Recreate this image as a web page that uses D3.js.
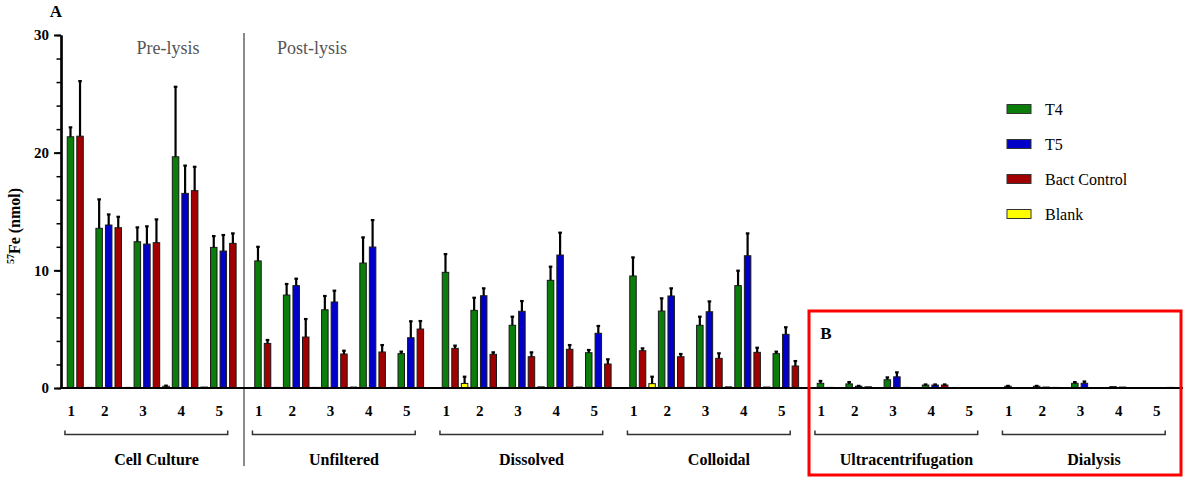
<!DOCTYPE html>
<html>
<head>
<meta charset="utf-8">
<script src="https://cdn.jsdelivr.net/npm/d3@7/dist/d3.min.js"></script>
<style>
  html, body { margin: 0; padding: 0; background: #ffffff; }
  svg { display: block; }
  svg text { font-family: "Liberation Serif", "Times New Roman", "DejaVu Serif", serif; }
</style>
</head>
<body>
<div id="chart"></div>
<script>
// Fractions and sample numbers
const groups = ["Cell Culture", "Unfiltered", "Dissolved", "Colloidal", "Ultracentrifugation", "Dialysis"];
const samples = ["1", "2", "3", "4", "5"];
const seriesNames = ["T4", "T5", "Bact Control", "Blank"];
const seriesColors = ["#0a7d0a", "#0000c8", "#a00000", "#ffff00"];
const yTicks = [0, 10, 20, 30];

// 57Fe (nmol) means, one row per fraction, one entry per sample
const t4Mean = [
  [21.35, 13.57, 12.43, 19.65, 11.95],
  [10.8, 7.9, 6.65, 10.62, 2.92],
  [9.83, 6.6, 5.33, 9.15, 3.0],
  [9.52, 6.54, 5.33, 8.7, 2.92],
  [0.4, 0.35, 0.7, 0.25, 0.03],
  [0.15, 0.15, 0.4, 0.12, 0.02]
];
const t4Err = [
  [0.8, 2.46, 1.22, 5.95, 0.96],
  [1.2, 0.94, 1.17, 2.18, 0.17],
  [1.55, 1.07, 0.73, 1.16, 0.23],
  [1.58, 1.08, 0.73, 1.27, 0.17],
  [0.2, 0.15, 0.2, 0.05, 0],
  [0.03, 0.03, 0.1, 0, 0]
];
const t5Mean = [
  [null, 13.85, 12.23, 16.54, 11.64],
  [null, 8.7, 7.31, 11.98, 4.27],
  [null, 7.84, 6.52, 11.3, 4.65],
  [null, 7.82, 6.48, 11.24, 4.56],
  [null, 0.15, 0.95, 0.25, 0.02],
  [null, 0.08, 0.4, 0.08, 0.02]
];
const t5Err = [
  [null, 0.9, 1.51, 2.36, 1.36],
  [null, 0.59, 0.96, 2.29, 1.4],
  [null, 0.63, 0.87, 1.9, 0.62],
  [null, 0.65, 0.88, 1.9, 0.6],
  [null, 0.03, 0.38, 0.05, 0],
  [null, 0, 0.15, 0, 0]
];
const bactMean = [
  [21.4, 13.62, 12.35, 16.77, 12.29],
  [3.79, 4.33, 2.89, 3.06, 5.01],
  [3.37, 2.86, 2.66, 3.29, 2.04],
  [3.17, 2.66, 2.52, 3.03, 1.87],
  [0.05, 0.1, 0.05, 0.25, 0.02],
  [0.03, 0.05, 0.03, 0.03, 0.05]
];
const bactErr = [
  [4.68, 0.93, 1.98, 2.03, 0.85],
  [0.29, 1.53, 0.28, 0.59, 0.68],
  [0.23, 0.17, 0.37, 0.36, 0.4],
  [0.2, 0.23, 0.43, 0.39, 0.42],
  [0, 0, 0, 0.05, 0],
  [0, 0, 0, 0, 0]
];
const blankMean = [
  [0.05, 0.05, 0.15, 0.08, 0.03],
  [0.05, 0.05, 0.08, 0.05, 0.03],
  [0.39, 0.05, 0.1, 0.08, 0.03],
  [0.37, 0.05, 0.1, 0.08, 0.03],
  [0.02, 0.02, 0.02, 0.02, 0.02],
  [0.02, 0.02, 0.02, 0.02, 0.02]
];
const blankErr = [
  [0, 0, 0.05, 0, 0],
  [0, 0, 0, 0, 0],
  [0.57, 0, 0, 0, 0],
  [0.59, 0, 0, 0, 0],
  [0, 0, 0, 0, 0],
  [0, 0, 0, 0, 0]
];

const means = [t4Mean, t5Mean, bactMean, blankMean];
const errs = [t4Err, t5Err, bactErr, blankErr];

const SERIF = "'Liberation Serif', 'Times New Roman', 'DejaVu Serif', serif";
const W = 1183, H = 477;
const svg = d3.select("#chart").append("svg").attr("width", W).attr("height", H)
  .attr("font-family", SERIF);

const y = d3.scaleLinear().domain([0, 30]).range([388, 35]);
const gx = d3.scaleBand().domain(groups).range([62.7, 1187.7]).padding(0);

// Each sample gets a slot for every series that has data for it
const slotKeys = [];
samples.forEach((s, i) => {
  seriesNames.forEach((name, k) => {
    const has = means[k].some(row => row[i] !== null);
    if (has) slotKeys.push(s + "|" + name);
  });
});
const sx = d3.scaleBand().domain(slotKeys).range([0, gx.bandwidth()])
  .paddingInner(0.32).paddingOuter(0.475);

// Bars and error bars
const bars = [];
groups.forEach((g, gi) => {
  samples.forEach((s, si) => {
    seriesNames.forEach((name, k) => {
      const v = means[k][gi][si];
      if (v === null) return;
      bars.push({ g, s, name, k, v, e: errs[k][gi][si] || 0 });
    });
  });
});

const barG = svg.append("g");
barG.selectAll("rect").data(bars).join("rect")
  .attr("x", d => gx(d.g) + sx(d.s + "|" + d.name))
  .attr("y", d => y(d.v))
  .attr("width", sx.bandwidth())
  .attr("height", d => y(0) - y(d.v))
  .attr("fill", d => seriesColors[d.k])
  .attr("stroke", "#1a1a1a")
  .attr("stroke-width", 1);

const errG = svg.append("g").attr("stroke", "#000").attr("stroke-width", 2.2);
bars.filter(d => d.e > 0).forEach(d => {
  const cx = gx(d.g) + sx(d.s + "|" + d.name) + sx.bandwidth() / 2;
  errG.append("line").attr("x1", cx).attr("x2", cx)
    .attr("y1", y(d.v)).attr("y2", y(d.v + d.e));
  errG.append("line").attr("x1", cx - 1.8).attr("x2", cx + 1.8)
    .attr("y1", y(d.v + d.e)).attr("y2", y(d.v + d.e));
});

// Pre/post lysis divider
svg.append("line")
  .attr("x1", 244).attr("x2", 244).attr("y1", 33).attr("y2", 466)
  .attr("stroke", "#8a8a8a").attr("stroke-width", 2);

// Baseline
svg.append("line")
  .attr("x1", 61).attr("x2", W).attr("y1", y(0)).attr("y2", y(0))
  .attr("stroke", "#000").attr("stroke-width", 2);

// Y axis: labelled major ticks plus minor ticks every 2 nmol
const yAxisG = svg.append("g").attr("transform", "translate(61,0)");
yAxisG.call(d3.axisLeft(y).tickValues(d3.range(0, 31, 2)).tickSize(4.5).tickSizeOuter(0).tickFormat(""));
yAxisG.selectAll(".tick line").attr("stroke-width", 1.5);
yAxisG.select(".domain").attr("stroke-width", 2.2);
const yMajor = svg.append("g").attr("transform", "translate(61,0)");
yMajor.call(d3.axisLeft(y).tickValues(yTicks).tickSize(7).tickSizeOuter(0).tickPadding(5));
yMajor.attr("font-family", SERIF);
yMajor.select(".domain").attr("stroke-width", 2.2);
yMajor.selectAll(".tick line").attr("stroke-width", 2);
yMajor.selectAll(".tick text")
  .attr("font-family", SERIF)
  .attr("font-weight", "bold").attr("font-size", 15).attr("fill", "#000");

// Y axis title
const yTitle = svg.append("text")
  .attr("transform", "translate(20,226) rotate(-90)")
  .attr("text-anchor", "middle")
  .attr("font-family", SERIF)
  .attr("font-weight", "bold").attr("font-size", 16);
yTitle.append("tspan").attr("font-size", 10).attr("dy", -6).text("57");
yTitle.append("tspan").attr("dy", 6).text("Fe (nmol)");

// Sample numbers, brackets and fraction names
const labelX = (g, s) => {
  const k4 = s + "|T4", k5 = s + "|T5";
  const c4 = gx(g) + sx(k4) + sx.bandwidth() / 2;
  if (slotKeys.includes(k5)) return (c4 + gx(g) + sx(k5) + sx.bandwidth() / 2) / 2;
  return c4;
};
groups.forEach(g => {
  const lg = svg.append("g");
  samples.forEach(s => {
    lg.append("text")
      .attr("x", labelX(g, s) + 0.8).attr("y", 416)
      .attr("text-anchor", "middle")
      .attr("font-family", SERIF)
      .attr("font-weight", "bold").attr("font-size", 15)
      .text(s);
  });
  const x0 = gx(g) + gx.bandwidth() * 0.012;
  const x1 = gx(g) + gx.bandwidth() * 0.88;
  lg.append("path")
    .attr("d", `M${x0},430.5V434.5H${x1}V430.5`)
    .attr("fill", "none").attr("stroke", "#333").attr("stroke-width", 1.5);
  lg.append("text")
    .attr("x", gx(g) + gx.bandwidth() / 2).attr("y", 465)
    .attr("text-anchor", "middle")
    .attr("font-family", SERIF)
    .attr("font-weight", "bold").attr("font-size", 16)
    .text(g);
});

// Lysis annotations
svg.append("text").attr("x", 168).attr("y", 54).attr("text-anchor", "middle")
  .attr("font-family", SERIF)
  .attr("font-size", 18).attr("fill", "#555").text("Pre-lysis");
svg.append("text").attr("x", 312).attr("y", 54).attr("text-anchor", "middle")
  .attr("font-family", SERIF)
  .attr("font-size", 18).attr("fill", "#555").text("Post-lysis");

// Panel letters
svg.append("text").attr("x", 56).attr("y", 17).attr("text-anchor", "middle")
  .attr("font-family", SERIF)
  .attr("font-weight", "bold").attr("font-size", 17).text("A");

// Highlight box for panel B
svg.append("rect").attr("x", 809).attr("y", 311).attr("width", 372).attr("height", 164)
  .attr("fill", "none").attr("stroke", "#ff0000").attr("stroke-width", 3);
svg.append("text").attr("x", 826).attr("y", 339).attr("text-anchor", "middle")
  .attr("font-family", SERIF)
  .attr("font-weight", "bold").attr("font-size", 17).text("B");

// Legend
const legend = svg.append("g");
seriesNames.forEach((name, k) => {
  const ly = 109 + k * 35;
  legend.append("rect").attr("x", 1007).attr("y", ly - 4.5).attr("width", 24).attr("height", 9)
    .attr("fill", seriesColors[k]).attr("stroke", "#333").attr("stroke-width", 1);
  legend.append("text").attr("x", 1045).attr("y", ly + 5.5)
    .attr("font-family", SERIF)
    .attr("font-size", 16).text(name);
});
</script>
</body>
</html>
